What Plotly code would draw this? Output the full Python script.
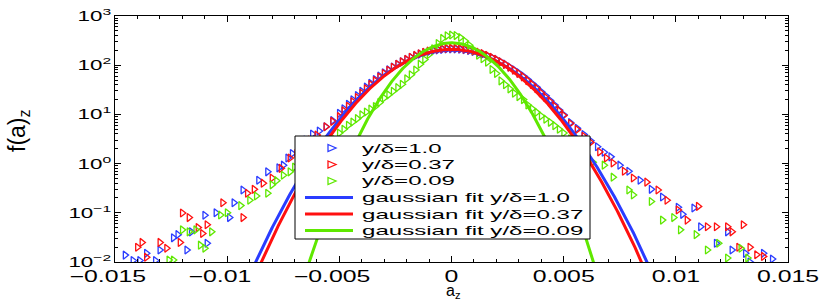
import numpy as np
import plotly.graph_objects as go

# ---------------- data ----------------
core_x = [-0.0048, -0.0046, -0.0044, -0.0042, -0.004, -0.0038, -0.0036, -0.0034, -0.0032,
          -0.003, -0.0028, -0.0026, -0.0024, -0.0022, -0.002, -0.0018, -0.0016, -0.0014,
          -0.0012, -0.001, -0.0008, -0.0006, -0.0004, -0.0002, 0.0, 0.0002, 0.0004, 0.0006,
          0.0008, 0.001, 0.0012, 0.0014, 0.0016, 0.0018, 0.002, 0.0022, 0.0024, 0.0026,
          0.0028, 0.003, 0.0032, 0.0034, 0.0036, 0.0038, 0.004, 0.0042, 0.0044, 0.0046,
          0.0048]

blue_core = [13.0, 16.0, 19.8, 24.2, 29.6, 35.8, 43, 51, 60, 70, 81, 92, 104, 117, 130,
             143, 156, 168, 179, 189, 198, 205, 210, 213, 215, 214, 211, 206, 199, 190, 180,
             168, 156, 143, 131, 117, 105, 92, 81, 70, 60, 51, 42.5, 35.5, 29, 23.8, 19.2,
             15.5, 12.3]
red_core = [11.8, 14.6, 18, 22, 27, 33.2, 40.4, 48.5, 57.7, 68, 79, 91, 104, 117, 131,
            145, 158, 171, 183, 194, 204, 211, 217, 220, 222, 221, 218, 212, 204, 195, 184,
            172, 159, 145, 131, 117, 104, 91, 79, 68, 58, 48.5, 40.5, 33.5, 27.2, 22, 18,
            14.6, 11.8]
green_core = [5.0, 6.0, 7.0, 8.2, 9.8, 11.2, 12.8, 14.5, 17.5, 21.5, 25, 29.5, 35, 41, 53,
              64, 80, 105, 130, 165, 215, 275, 350, 395, 410, 400, 365, 310, 255, 205, 160,
              135, 115, 82, 68, 48, 40, 33, 27, 23, 20, 15.5, 13, 11, 9.3, 8.0, 6.9, 5.9,
              5.0]

blue_tail_x = [-0.01455, -0.0142, -0.0139, -0.0136, -0.0132, -0.013, -0.0124, -0.0122,
               -0.0118, -0.0116, -0.011, -0.0109, -0.0105, -0.0099, -0.0097, -0.0093,
               -0.0086, -0.0082, -0.0077, -0.0075, -0.0073, -0.0071, -0.0068, -0.0065,
               -0.0062, -0.0059, -0.0056, -0.0053, -0.005,
               0.005, 0.0053, 0.0056, 0.0059, 0.0062, 0.0065, 0.0068, 0.0071, 0.0075, 0.0079,
               0.0084, 0.0089, 0.0094, 0.0101, 0.0103, 0.0108, 0.0111, 0.0118, 0.0123,
               0.0125, 0.0131, 0.0133, 0.0139, 0.0143]
blue_tail_y = [0.0138, 0.0107, 0.0107, 0.015, 0.0107, 0.0175, 0.031, 0.036,
               0.0175, 0.041, 0.089, 0.024, 0.10, 0.08, 0.16, 0.29,
               0.46, 0.68, 0.82, 0.93, 1.3, 1.6, 2.2, 3.0,
               4.0, 4.6, 5.6, 7.5, 10.5,
               9.8, 6.8, 5.2, 3.9, 2.9, 2.2, 1.7, 1.37, 0.93, 0.7,
               0.46, 0.3, 0.21, 0.13, 0.093, 0.125, 0.052, 0.024, 0.041,
               0.0175, 0.015, 0.010, 0.015, 0.0115]

red_tail_x = [-0.014, -0.0138, -0.0136, -0.013, -0.0127, -0.0121, -0.012, -0.0117,
              -0.0113, -0.0111, -0.0109, -0.0102, -0.0093, -0.0091, -0.0088, -0.0084,
              -0.008, -0.0076, -0.0072, -0.0069, -0.0066, -0.0063, -0.006, -0.0056,
              -0.0053, -0.005,
              0.005, 0.0053, 0.0056, 0.0059, 0.0062, 0.0066, 0.0069, 0.0072, 0.0077, 0.0081,
              0.0087, 0.0092, 0.0096, 0.0101, 0.0105, 0.011, 0.0114, 0.0118, 0.0123,
              0.0125, 0.0128, 0.013, 0.0133, 0.0136, 0.0139]
red_tail_y = [0.020, 0.025, 0.0125, 0.025, 0.019, 0.025, 0.099, 0.08,
              0.05, 0.038, 0.057, 0.16, 0.08, 0.25, 0.3, 0.40,
              0.51, 0.8, 1.3, 1.6, 2.2, 3.0, 3.8, 5.6,
              7.2, 9.0,
              9.5, 6.5, 4.9, 3.6, 2.7, 1.73, 1.3, 1.03, 0.7, 0.51,
              0.42, 0.29, 0.18, 0.114, 0.071, 0.135, 0.052, 0.052, 0.052,
              0.041, 0.020, 0.057, 0.020, 0.014, 0.013]

green_tail_x = [-0.0126, -0.0124, -0.012, -0.0117, -0.0114, -0.0112, -0.011, -0.0107,
                -0.0103, -0.01, -0.0094, -0.009, -0.0087, -0.0082, -0.008, -0.0078,
                -0.0075, -0.0072, -0.007, -0.0066, -0.0063, -0.006, -0.0056, -0.0053,
                -0.005,
                0.005, 0.0053, 0.0056, 0.0059, 0.0063, 0.0068, 0.0072, 0.0079, 0.0081,
                0.0089, 0.0094, 0.0099, 0.0102, 0.0109, 0.0114, 0.0119, 0.0123, 0.0129,
                0.0132]
green_tail_y = [0.011, 0.011, 0.045, 0.041, 0.045, 0.022, 0.019, 0.041,
                0.09, 0.1, 0.14, 0.18, 0.22, 0.25, 0.37, 0.45,
                0.58, 0.68, 0.85, 1.2, 1.6, 2.0, 2.7, 3.3,
                4.2,
                4.2, 3.2, 2.6, 2.0, 1.07, 0.93, 0.53, 0.29, 0.23,
                0.17, 0.071, 0.08, 0.045, 0.036, 0.0175, 0.024, 0.012, 0.019,
                0.012]

# gaussian fit parameters (mean, sigma)
fit_mean = [0.0, 0.0, 0.0]
fit_sigma = [0.00196, 0.0019, 0.0014]

series_names = ["y/δ=1.0", "y/δ=0.37", "y/δ=0.09"]
fit_names = ["gaussian fit y/δ=1.0", "gaussian fit y/δ=0.37", "gaussian fit y/δ=0.09"]

x_ticks = [-0.015, -0.01, -0.005, 0, 0.005, 0.01, 0.015]
x_tick_labels = ["−0.015", "−0.01", "−0.005", "0", "0.005", "0.01", "0.015"]
y_ticks = [0.01, 0.1, 1, 10, 100, 1000]
y_tick_labels = ["10<sup>−2</sup>", "10<sup>−1</sup>", "10<sup>0</sup>",
                 "10<sup>1</sup>", "10<sup>2</sup>", "10<sup>3</sup>"]

# ---------------- figure ----------------
colors = ["#2a3cff", "#ff1010", "#5fe800"]
FONT = "Liberation Sans, Arial, Helvetica, sans-serif"

L, R, T, B = 115, 42, 16, 38
W, H = 830, 300
PW, PH = W - L - R, H - T - B


def px(xp):
    return (xp - L) / PW


def py(yp):
    return (H - B - yp) / PH


fig = go.Figure()
marker_sets = [
    (blue_core, blue_tail_x, blue_tail_y),
    (red_core, red_tail_x, red_tail_y),
    (green_core, green_tail_x, green_tail_y),
]
for i, (core_y, tx, ty) in enumerate(marker_sets):
    xs = list(tx) + list(core_x)
    ys = list(ty) + list(core_y)
    order = np.argsort(xs)
    fig.add_trace(go.Scatter(
        x=np.array(xs)[order], y=np.array(ys)[order], mode="markers",
        name=series_names[i], showlegend=False,
        marker=dict(symbol="triangle-right-open", size=7, color=colors[i],
                    line=dict(width=1.3, color=colors[i])),
    ))

xf = np.linspace(-0.015, 0.015, 1201)
for i in range(3):
    s = fit_sigma[i]
    yf = np.exp(-(xf - fit_mean[i]) ** 2 / (2 * s * s)) / (s * np.sqrt(2 * np.pi))
    yf = np.where(yf < 1e-3, np.nan, yf)
    fig.add_trace(go.Scatter(x=xf, y=yf, mode="lines", name=fit_names[i],
                             showlegend=False, line=dict(color=colors[i], width=3)))

# ---- legend box drawn by hand (to match the reference box geometry) ----
shapes = [dict(type="rect", xref="paper", yref="paper", layer="above",
               x0=px(295), x1=px(590), y0=py(239), y1=py(136),
               fillcolor="white", line=dict(color="black", width=1))]
annotations = []
row_y = [148, 164.5, 181, 197.5, 214, 230.5]
for i in range(3):
    yc = row_y[i]
    path = "M {:.5f},{:.5f} L {:.5f},{:.5f} L {:.5f},{:.5f} Z".format(
        px(328), py(yc - 3.5), px(336), py(yc), px(328), py(yc + 3.5))
    shapes.append(dict(type="path", xref="paper", yref="paper", layer="above",
                       path=path, line=dict(color=colors[i], width=1.3)))
for i in range(3):
    yc = row_y[3 + i]
    shapes.append(dict(type="line", xref="paper", yref="paper", layer="above",
                       x0=px(305), x1=px(353), y0=py(yc), y1=py(yc),
                       line=dict(color=colors[i], width=3)))
for i, name in enumerate(series_names + fit_names):
    annotations.append(dict(text=name, xref="paper", yref="paper", showarrow=False,
                            x=px(360), y=py(row_y[i]), xanchor="left", yanchor="middle",
                            font=dict(size=13, family=FONT, color="black")))

# axis titles
annotations.append(dict(text="f(a)<sub>z</sub>", xref="paper", yref="paper", showarrow=False,
                        x=px(18), y=py(131), xanchor="center", yanchor="middle",
                        textangle=-90, font=dict(size=23, family=FONT, color="black")))
annotations.append(dict(text="a<sub>z</sub>", xref="paper", yref="paper", showarrow=False,
                        x=px(453), y=py(291), xanchor="center", yanchor="middle",
                        font=dict(size=16, family=FONT, color="black")))

minor_y = [k * 10.0 ** e for e in range(-2, 3) for k in range(2, 10)]

fig.update_layout(
    width=W, height=H,
    margin=dict(l=L, r=R, t=T, b=B, autoexpand=False),
    paper_bgcolor="white", plot_bgcolor="white",
    font=dict(family=FONT, size=14, color="black"),
    showlegend=False,
    shapes=shapes, annotations=annotations,
)
fig.update_xaxes(
    range=[-0.015, 0.015], tickvals=x_ticks, ticktext=x_tick_labels, automargin=False,
    ticks="inside", ticklen=6, tickcolor="black", showgrid=False, zeroline=False,
    showline=True, linecolor="black", linewidth=1, mirror="ticks",
    minor=dict(dtick=0.001, ticks="inside", ticklen=3, tickcolor="black", showgrid=False),
    tickfont=dict(size=16),
)
fig.update_yaxes(
    type="log", range=[-2, 3], tickvals=y_ticks, ticktext=y_tick_labels, automargin=False,
    ticks="inside", ticklen=6, tickcolor="black", showgrid=False, zeroline=False,
    showline=True, linecolor="black", linewidth=1, mirror="ticks",
    minor=dict(tickvals=minor_y, ticks="inside", ticklen=3, tickcolor="black", showgrid=False),
    tickfont=dict(size=14),
)

# Page margin off, and the reference's horizontally stretched lettering.
post_js = """
document.body.style.margin = '0';
document.body.style.padding = '0';
var gd = document.getElementById('{plot_id}');
function stretchText(t, k, keepLeft) {
  var w = t.getComputedTextLength();
  if (!(w > 0)) return 0;
  var first = 0;
  try { first = t.getSubStringLength(0, 1); } catch (e) { first = 0; }
  t.setAttribute('lengthAdjust', 'spacingAndGlyphs');
  t.setAttribute('textLength', (w * k).toFixed(2));
  var dx = 0;
  if (keepLeft) dx = (k - 1) * w / 2;
  return {dx: dx, first: first * k};
}
function shift(t, dx) {
  if (!dx) return;
  var tr = t.getAttribute('transform') || '';
  t.setAttribute('transform', tr + ' translate(' + dx.toFixed(2) + ',0)');
}
gd.querySelectorAll('.xtick text').forEach(function(t){
  var r = stretchText(t, 1.55, false);
  if (r && t.textContent.charAt(0) === '\u2212') shift(t, -r.first / 2);
});
gd.querySelectorAll('.ytick text').forEach(function(t){ stretchText(t, 1.6, false); });
gd.querySelectorAll('.annotation-text').forEach(function(t){
  if (t.textContent.indexOf('\u03b4') >= 0) {
    var r = stretchText(t, 1.85, true);
    if (r) shift(t, r.dx);
  }
});
"""

fig.write_html("out.html", post_script=post_js, config={"displayModeBar": False})
